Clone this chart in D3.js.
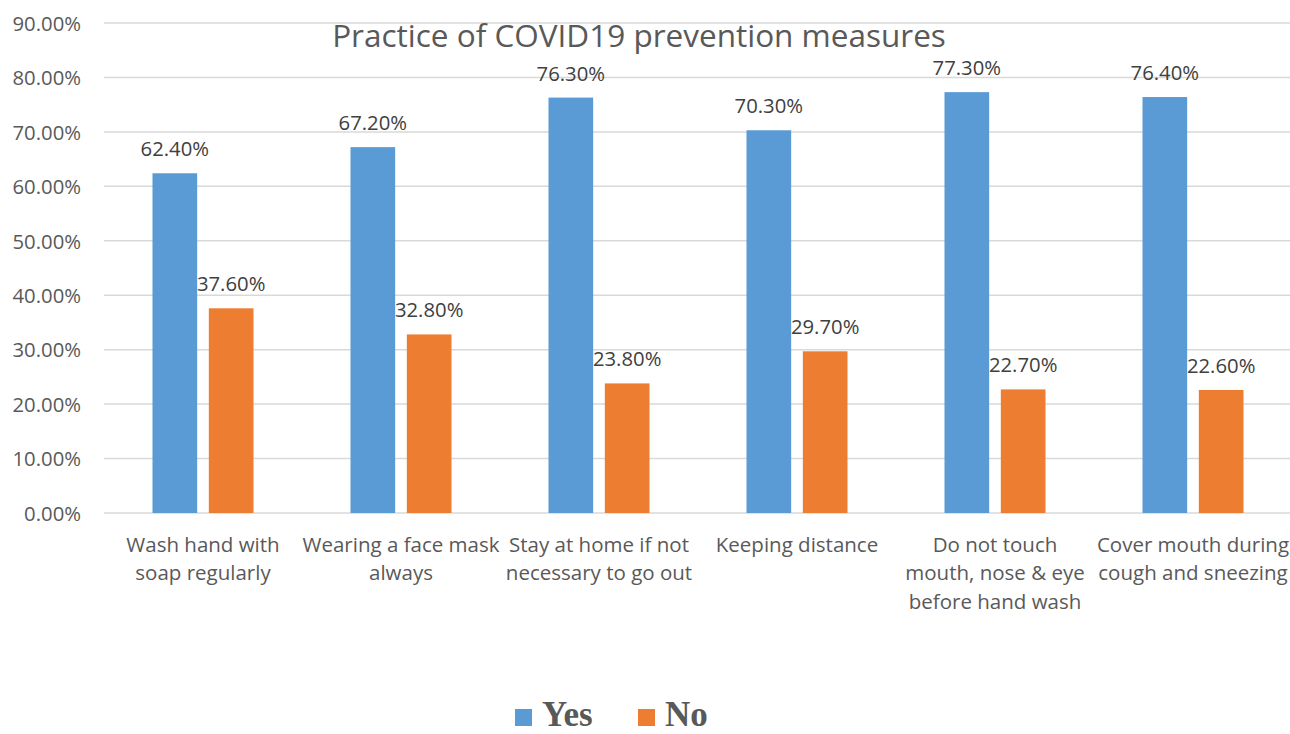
<!DOCTYPE html>
<html><head><meta charset="utf-8">
<script src="https://cdn.jsdelivr.net/npm/d3@7"></script>
<style>body{margin:0;background:#fff}svg{display:block}</style>
</head><body>
<svg id="c" width="1290" height="734"></svg>
<script>
const categories = [
  ["Wash hand with","soap regularly"],
  ["Wearing a face mask","always"],
  ["Stay at home if not","necessary to go out"],
  ["Keeping distance"],
  ["Do not touch","mouth, nose & eye","before hand wash"],
  ["Cover mouth during","cough and sneezing"]
];
const seriesNames = ["Yes","No"];
const yesValues = [62.4, 67.2, 76.3, 70.3, 77.3, 76.4];
const noValues = [37.6, 32.8, 23.8, 29.7, 22.7, 22.6];
const yTicks = [0,10,20,30,40,50,60,70,80,90];
const colors = ["#5B9BD5","#ED7D31"];
const chartTitle = "Practice of COVID19 prevention measures";

(function(){
const svg = d3.select("#c");
const font = "'Open Sans', 'Noto Sans', sans-serif";
const pLeft = 104, pRight = 1292, pTop = 23, pBottom = 513;
const x = d3.scaleBand().domain(d3.range(categories.length)).range([pLeft,pRight]).paddingInner(0).paddingOuter(0);
const y = d3.scaleLinear().domain([0,90]).range([pBottom,pTop]);
const groupW = 101;
const xs = d3.scaleBand().domain([0,1]).range([0,groupW]).paddingInner(0.207);

svg.append("g").selectAll("line").data(yTicks).join("line")
  .attr("x1",pLeft).attr("x2",pRight).attr("y1",d=>y(d)).attr("y2",d=>y(d))
  .attr("stroke","#D9D9D9").attr("stroke-width",1.5);

const yAxis = d3.axisLeft(y).tickValues(yTicks).tickSize(0).tickPadding(0).tickFormat(d=>d.toFixed(2)+"%");
const ga = svg.append("g").attr("transform",`translate(81,0)`).call(yAxis);
ga.select(".domain").remove();
ga.selectAll("text").attr("font-family",font).attr("font-size",20.3).attr("fill","#595959").attr("dy","0.36em");

svg.append("text").attr("x",639).attr("y",47).attr("text-anchor","middle")
  .attr("font-family",font).attr("font-size",31.5).attr("fill","#595959").text(chartTitle);

const series = [yesValues,noValues];
const g = svg.append("g");
series.forEach((vals,si)=>{
  g.append("g").selectAll("rect").data(vals).join("rect")
    .attr("x",(d,i)=>x(i)+(x.bandwidth()-groupW)/2+xs(si))
    .attr("width",xs.bandwidth())
    .attr("y",d=>y(d)).attr("height",d=>y(0)-y(d))
    .attr("fill",colors[si]);
  g.append("g").selectAll("text").data(vals).join("text")
    .attr("x",(d,i)=>x(i)+(x.bandwidth()-groupW)/2+xs(si)+xs.bandwidth()/2)
    .attr("y",d=>y(d)-17)
    .attr("text-anchor","middle").attr("font-family",font).attr("font-size",20.3).attr("fill","#404040")
    .text(d=>d.toFixed(2)+"%");
});

const cl = svg.append("g").selectAll("text").data(categories).join("text")
  .attr("x",(d,i)=>x(i)+x.bandwidth()/2).attr("y",552)
  .attr("text-anchor","middle").attr("font-family",font).attr("font-size",20.5).attr("fill","#595959");
cl.selectAll("tspan").data(d=>d).join("tspan")
  .attr("x",function(){return this.parentNode.getAttribute("x");})
  .attr("dy",(d,i)=>i===0?0:28.3).text(d=>d);

const leg = svg.append("g");
const legX = [515, 638];
seriesNames.forEach((n,i)=>{
  leg.append("rect").attr("x",legX[i]).attr("y",709).attr("width",17).attr("height",17).attr("fill",colors[i]);
  leg.append("text").attr("x",legX[i]+27).attr("y",726).attr("font-family","'Liberation Serif', 'DejaVu Serif', serif")
    .attr("font-weight","bold").attr("font-size",35).attr("fill","#595959").text(n);
});
})();
</script>
</body></html>
